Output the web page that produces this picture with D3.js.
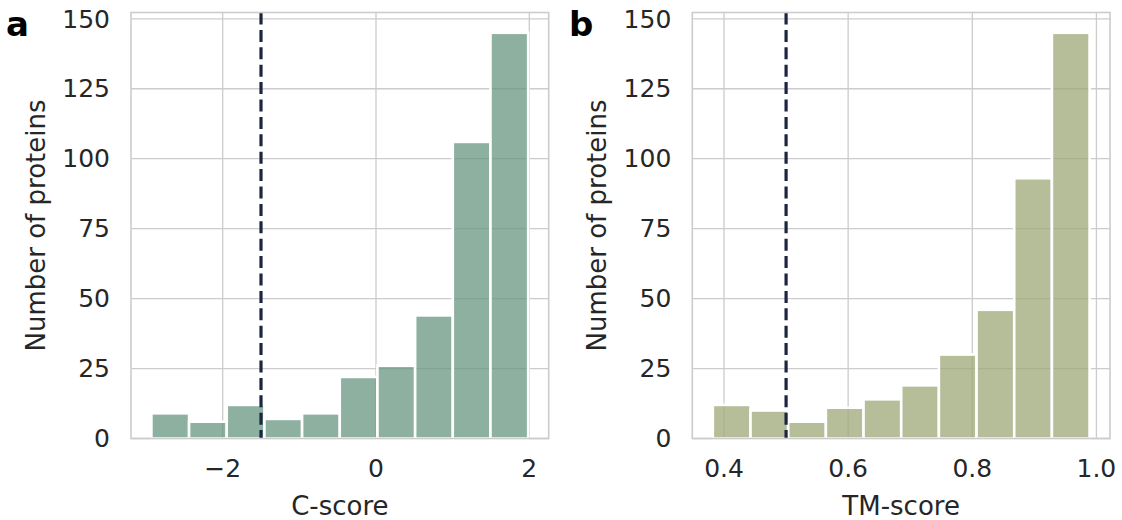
<!DOCTYPE html>
<html>
<head>
<meta charset="utf-8">
<script src="https://cdn.jsdelivr.net/npm/d3@7"></script>
<style>
  body { margin: 0; background: #fff; }
  svg { display: block; }
</style>
</head>
<body>
<svg id="chart"></svg>
<script>
// counts per bin (10 equal bins each)
const cscoreCounts = [9, 6, 12, 7, 9, 22, 26, 44, 106, 145];
const cscoreRange = [-2.93, 1.985];
const cscoreTicks = [-2, 0, 2];
const cscoreCutoff = -1.5;

const tmCounts = [12, 10, 6, 11, 14, 19, 30, 46, 93, 145];
const tmRange = [0.382, 0.989];
const tmTicks = [0.4, 0.6, 0.8, 1.0];
const tmCutoff = 0.5;

const countTicks = [0, 25, 50, 75, 100, 125, 150];

const width = 1122, height = 520;
const font = "'DejaVu Sans', sans-serif";
const textColor = "#262626";
const gridColor = "#cccccc";

const svg = d3.select("#chart").attr("width", width).attr("height", height);

function histPanel({ counts, range, ticks, cutoff, xDomain, left, right, fill, xLabel, letter, letterX, tickFormat }) {
  const top = 12.5, bottom = 438.5;
  const g = svg.append("g");

  const x = d3.scaleLinear().domain(xDomain).range([left, right]);
  const y = d3.scaleLinear().domain([0, 152.25]).range([bottom, top]);

  // bin edges from the data range
  const step = (range[1] - range[0]) / counts.length;
  const bins = counts.map((c, i) => ({ x0: range[0] + i * step, x1: range[0] + (i + 1) * step, c }));

  // grid
  g.append("g").selectAll("line").data(countTicks).join("line")
    .attr("x1", left).attr("x2", right)
    .attr("y1", d => y(d)).attr("y2", d => y(d))
    .attr("stroke", gridColor).attr("stroke-width", 1.3);
  g.append("g").selectAll("line").data(ticks).join("line")
    .attr("x1", d => x(d)).attr("x2", d => x(d))
    .attr("y1", top).attr("y2", bottom)
    .attr("stroke", gridColor).attr("stroke-width", 1.3);

  // bars
  g.append("g").selectAll("rect").data(bins).join("rect")
    .attr("x", d => x(d.x0))
    .attr("width", d => x(d.x1) - x(d.x0))
    .attr("y", d => y(d.c))
    .attr("height", d => y(0) - y(d.c))
    .attr("fill", fill)
    .attr("fill-opacity", 0.75)
    .attr("stroke", "#fff")
    .attr("stroke-width", 2.6);

  // cutoff line
  g.append("line")
    .attr("x1", x(cutoff)).attr("x2", x(cutoff))
    .attr("y1", top).attr("y2", bottom)
    .attr("stroke", "#1c2541")
    .attr("stroke-width", 3.2)
    .attr("stroke-dasharray", "12,5.4");

  // frame
  g.append("rect")
    .attr("x", left).attr("y", top)
    .attr("width", right - left).attr("height", bottom - top)
    .attr("fill", "none").attr("stroke", gridColor).attr("stroke-width", 1.6);

  // tick labels
  g.append("g").selectAll("text").data(countTicks).join("text")
    .attr("x", left - 21).attr("y", d => y(d)).attr("dy", "0.35em")
    .attr("text-anchor", "end")
    .style("font", `25px ${font}`).attr("fill", textColor)
    .text(d => d);
  g.append("g").selectAll("text").data(ticks).join("text")
    .attr("x", d => x(d)).attr("y", bottom + 38.5)
    .attr("text-anchor", "middle")
    .style("font", `25px ${font}`).attr("fill", textColor)
    .text(tickFormat);

  // axis labels
  g.append("text")
    .attr("x", (left + right) / 2).attr("y", 515)
    .attr("text-anchor", "middle")
    .style("font", `26px ${font}`).attr("fill", textColor)
    .text(xLabel);
  g.append("text")
    .attr("transform", `translate(${left - 86},${(top + bottom) / 2}) rotate(-90)`)
    .attr("text-anchor", "middle")
    .style("font", `26px ${font}`).attr("fill", textColor)
    .text("Number of proteins");

  // panel letter
  g.append("text")
    .attr("x", letterX).attr("y", 36)
    .style("font", `bold 34px ${font}`).attr("fill", "#000")
    .text(letter);
}

histPanel({
  counts: cscoreCounts, range: cscoreRange, ticks: cscoreTicks, cutoff: cscoreCutoff,
  xDomain: [-3.196, 2.253], left: 131, right: 548.7,
  fill: "#679680", xLabel: "C-score", letter: "a", letterX: 6,
  tickFormat: d => d3.format("")(d).replace("-", "\u2212")
});

histPanel({
  counts: tmCounts, range: tmRange, ticks: tmTicks, cutoff: tmCutoff,
  xDomain: [0.3489, 1.0219], left: 692.3, right: 1110,
  fill: "#9ca777", xLabel: "TM-score", letter: "b", letterX: 569,
  tickFormat: d3.format(".1f")
});
</script>
</body>
</html>
